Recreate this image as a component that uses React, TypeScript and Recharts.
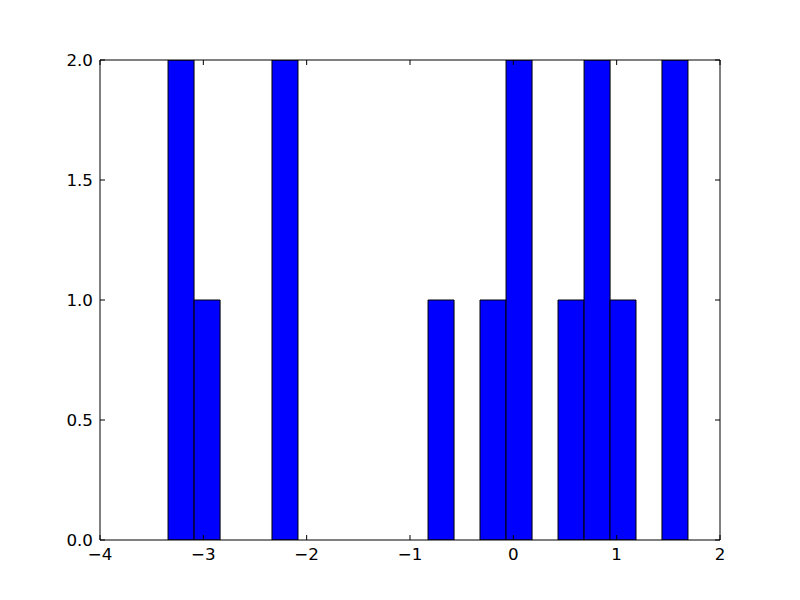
import React from "react";
import { ComposedChart, Bar, XAxis, YAxis } from "recharts";

// Histogram bin centers (20 bins) and counts
const binCenters = [
  -3.216, -2.964, -2.713, -2.461, -2.21, -1.958, -1.706, -1.455, -1.203, -0.952,
  -0.7, -0.448, -0.197, 0.055, 0.306, 0.558, 0.81, 1.061, 1.313, 1.564,
];
const counts = [2, 1, 0, 0, 2, 0, 0, 0, 0, 0, 1, 0, 1, 2, 0, 1, 2, 1, 0, 2];

const xTicks = [-4, -3, -2, -1, 0, 1, 2];
const yTicks = [0, 0.5, 1, 1.5, 2];

const data = binCenters.map((c, i) => ({ x: c, count: counts[i] }));

const FONT = "DejaVu Sans";
const FS = 16.7;
const TICK = 5;

const fmtX = (v: number) => (v < 0 ? "\u2212" + Math.abs(v) : String(v));
const fmtY = (v: number) => v.toFixed(1);

const BottomTick = (props: any) => {
  const { x, y, payload } = props;
  return (
    <g>
      <line x1={x} x2={x} y1={y} y2={y - TICK} stroke="#000" strokeWidth={1} />
      <text x={x} y={y + 19.5} textAnchor="middle" fontFamily={FONT} fontSize={FS} fill="#000">
        {fmtX(payload.value)}
      </text>
    </g>
  );
};

const TopTick = (props: any) => {
  const { x, y } = props;
  return <line x1={x} x2={x} y1={y} y2={y + TICK} stroke="#000" strokeWidth={1} />;
};

const LeftTick = (props: any) => {
  const { x, y, payload } = props;
  return (
    <g>
      <line x1={x} x2={x + TICK} y1={y} y2={y} stroke="#000" strokeWidth={1} />
      <text x={x - 7} y={y + 5.5} textAnchor="end" fontFamily={FONT} fontSize={FS} fill="#000">
        {fmtY(payload.value)}
      </text>
    </g>
  );
};

const RightTick = (props: any) => {
  const { x, y } = props;
  return <line x1={x} x2={x - TICK} y1={y} y2={y} stroke="#000" strokeWidth={1} />;
};

export default function App() {
  return (
    <div style={{ position: "absolute", left: 0, top: 0, width: 800, height: 600, background: "#fff" }}>
      <ComposedChart
        width={800}
        height={600}
        data={data}
        margin={{ top: 59, right: 79, bottom: 30, left: 50 }}
        barCategoryGap={0}
        barGap={0}
      >
        <Bar
          dataKey="count"
          fill="#0000ff"
          stroke="#000"
          strokeWidth={1}
          isAnimationActive={false}
        />
        <Bar
          dataKey="count"
          xAxisId="top"
          yAxisId="right"
          fill="none"
          stroke="none"
          isAnimationActive={false}
        />
        <XAxis
          dataKey="x"
          type="number"
          domain={[-4, 2]}
          ticks={xTicks}
          height={30}
          tickSize={0}
          tickMargin={0}
          tick={<BottomTick />}
          axisLine={{ stroke: "#000", strokeWidth: 1 }}
          allowDataOverflow
        />
        <XAxis
          xAxisId="top"
          dataKey="x"
          orientation="top"
          type="number"
          domain={[-4, 2]}
          ticks={xTicks}
          height={1}
          tickSize={0}
          tickMargin={0}
          tick={<TopTick />}
          axisLine={{ stroke: "#000", strokeWidth: 1 }}
          allowDataOverflow
        />
        <YAxis
          type="number"
          domain={[0, 2]}
          ticks={yTicks}
          width={50}
          tickSize={0}
          tickMargin={0}
          tick={<LeftTick />}
          axisLine={{ stroke: "#000", strokeWidth: 1 }}
          allowDataOverflow
        />
        <YAxis
          yAxisId="right"
          orientation="right"
          type="number"
          domain={[0, 2]}
          ticks={yTicks}
          width={1}
          tickSize={0}
          tickMargin={0}
          tick={<RightTick />}
          axisLine={{ stroke: "#000", strokeWidth: 1 }}
          allowDataOverflow
        />
      </ComposedChart>
    </div>
  );
}
